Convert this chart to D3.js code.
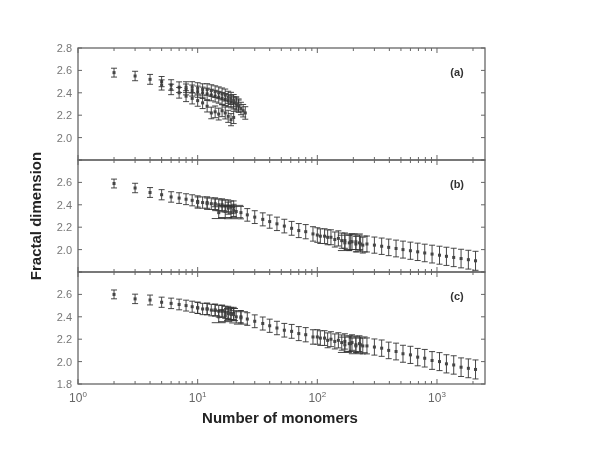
<!DOCTYPE html>
<html>
<head>
<meta charset="utf-8">
<script src="https://cdn.jsdelivr.net/npm/d3@7"></script>
<style>
  body { margin: 0; background: #fff; }
  text { font-family: "Liberation Sans", Arial, sans-serif; }
</style>
</head>
<body>
<div id="chart-area"></div>
<script>
// panel (a): clusters grown to ~20 monomers
var a1N = [2,3,4,5,6,7,8,9,10,11,12,13,14,15,16,17,18,19,20,21,22,23,24,25];
var a1D = [2.58,2.55,2.52,2.50,2.47,2.45,2.43,2.42,2.41,2.40,2.39,2.38,2.37,2.36,2.35,2.34,2.33,2.32,2.31,2.30,2.28,2.26,2.24,2.22];
var a2N = [5,6,7,8,9,10,11,12,13,14,15,16,17,18,19,20];
var a2D = [2.47,2.43,2.40,2.37,2.35,2.33,2.31,2.28,2.22,2.23,2.21,2.24,2.22,2.19,2.16,2.18];
var a3N = [8,9,10,11,12,13,14,15,16,17,18,19,20,21,22];
var a3D = [2.45,2.45,2.44,2.43,2.43,2.42,2.41,2.40,2.39,2.38,2.36,2.35,2.33,2.31,2.29];

// panel (b)
var b1N = [2,3,4,5,6,7,8,9,10,11,12,13,14,15,16,17,18,19,20];
var b1D = [2.59,2.55,2.51,2.49,2.47,2.46,2.45,2.44,2.43,2.42,2.42,2.41,2.41,2.40,2.40,2.39,2.39,2.38,2.38];
var b2N = [10,12,14,16,18,20,23,26,30,35,40,46,53,61,70,80,92,106,122,140,160,185,210,240];
var b2D = [2.42,2.41,2.40,2.39,2.37,2.35,2.33,2.31,2.29,2.27,2.25,2.23,2.21,2.19,2.17,2.16,2.14,2.12,2.11,2.09,2.08,2.06,2.05,2.04];
var b3N = [100,115,130,150,170,195,225,260,300,345,395,455,520,600,690,790,910,1050,1200,1380,1590,1830,2100];
var b3D = [2.13,2.12,2.11,2.10,2.08,2.07,2.06,2.05,2.04,2.03,2.02,2.01,2.00,1.99,1.98,1.97,1.96,1.95,1.94,1.93,1.92,1.91,1.90];
var b4N = [15,17,19,21,170,190,210,230];
var b4D = [2.33,2.34,2.33,2.34,2.06,2.07,2.07,2.05];

// panel (c)
var c1N = [2,3,4,5,6,7,8,9,10,11,12,13,14,15,16,17,18,19,20];
var c1D = [2.60,2.56,2.55,2.53,2.52,2.51,2.50,2.49,2.48,2.47,2.47,2.46,2.46,2.45,2.45,2.44,2.44,2.43,2.43];
var c2N = [10,12,14,16,18,20,23,26,30,35,40,46,53,61,70,80,92,106,122,140,160,185,210,240];
var c2D = [2.48,2.47,2.46,2.45,2.43,2.42,2.40,2.38,2.36,2.34,2.32,2.30,2.28,2.27,2.25,2.24,2.22,2.21,2.19,2.18,2.17,2.16,2.15,2.14];
var c3N = [100,115,130,150,170,195,225,260,300,345,395,455,520,600,690,790,910,1050,1200,1380,1590,1830,2100];
var c3D = [2.22,2.21,2.20,2.19,2.18,2.17,2.16,2.14,2.13,2.12,2.10,2.09,2.07,2.06,2.04,2.03,2.01,2.00,1.98,1.97,1.95,1.94,1.93];
var c4N = [15,17,19,21,23,170,190,210,230];
var c4D = [2.40,2.41,2.42,2.40,2.39,2.15,2.16,2.14,2.15];

var yTicks = [1.8, 2.0, 2.2, 2.4, 2.6, 2.8];
var xTicks = [1, 10, 100, 1000];

// error bar half width: small at low N, growing with N
function err(n) { return 0.035 + 0.015 * Math.log10(n); }

var panels = [
  { label: "(a)", shown: [2.0,2.2,2.4,2.6,2.8], series: [
    { n: a1N, d: a1D, cap: 3 }, { n: a2N, d: a2D, cap: 3 }, { n: a3N, d: a3D, cap: 3 } ] },
  { label: "(b)", shown: [2.0,2.2,2.4,2.6], series: [
    { n: b1N, d: b1D, cap: 3 }, { n: b2N, d: b2D, cap: 3 }, { n: b3N, d: b3D, cap: 3 }, { n: b4N, d: b4D, cap: 7 } ] },
  { label: "(c)", shown: [1.8,2.0,2.2,2.4,2.6], series: [
    { n: c1N, d: c1D, cap: 3 }, { n: c2N, d: c2D, cap: 3 }, { n: c3N, d: c3D, cap: 3 }, { n: c4N, d: c4D, cap: 7 } ] }
];

var W = 593, H = 457;
var left = 78, right = 485, top0 = 48, panelH = 112;

var svg = d3.select("#chart-area").append("svg")
  .attr("width", W)
  .attr("height", H);

svg.append("defs").append("filter").attr("id", "soft")
  .append("feGaussianBlur").attr("stdDeviation", 0.45);

var root = svg.append("g").attr("filter", "url(#soft)");

var x = d3.scaleLog().domain([1, 2520]).range([left, right]);

var minor = x.ticks().filter(t => t <= 2520);

panels.forEach((p, i) => {
  var y0 = top0 + i * panelH;
  var y = d3.scaleLinear().domain([1.8, 2.8]).range([y0 + panelH, y0]);
  var g = root.append("g");

  // frame
  g.append("rect")
    .attr("x", left).attr("y", y0)
    .attr("width", right - left).attr("height", panelH)
    .attr("fill", "none").attr("stroke", "#666").attr("stroke-width", 1.3);

  // x ticks, inward at top and bottom
  [y0, y0 + panelH].forEach((yy, k) => {
    g.selectAll(null).data(minor).enter().append("line")
      .attr("x1", d => x(d)).attr("x2", d => x(d))
      .attr("y1", yy)
      .attr("y2", d => yy + (k === 0 ? 1 : -1) * (xTicks.indexOf(d) >= 0 ? 5 : 3))
      .attr("stroke", "#666");
  });

  // y ticks left and right
  yTicks.forEach(t => {
    g.append("line").attr("x1", left).attr("x2", left + 4)
      .attr("y1", y(t)).attr("y2", y(t)).attr("stroke", "#666");
    g.append("line").attr("x1", right).attr("x2", right - 4)
      .attr("y1", y(t)).attr("y2", y(t)).attr("stroke", "#666");
  });

  g.selectAll(null).data(p.shown).enter().append("text")
    .attr("x", left - 6).attr("y", d => y(d) + 4)
    .attr("text-anchor", "end")
    .attr("font-size", 11).attr("fill", "#777")
    .text(d => d3.format(".1f")(d));

  g.append("text")
    .attr("x", 457).attr("y", y0 + 28)
    .attr("text-anchor", "middle")
    .attr("font-size", 11).attr("font-weight", "bold").attr("fill", "#333")
    .text(p.label);

  // error bars + markers
  p.series.forEach(s => {
    var pts = s.n.map((n, j) => ({ n: n, d: s.d[j], e: err(n) }));
    var sg = g.append("g").attr("stroke", "#333").attr("stroke-width", 0.9);
    sg.selectAll(null).data(pts).enter().append("line")
      .attr("x1", d => x(d.n)).attr("x2", d => x(d.n))
      .attr("y1", d => y(d.d - d.e)).attr("y2", d => y(d.d + d.e));
    sg.selectAll(null).data(pts).enter().append("line")
      .attr("x1", d => x(d.n) - s.cap).attr("x2", d => x(d.n) + s.cap)
      .attr("y1", d => y(d.d - d.e)).attr("y2", d => y(d.d - d.e));
    sg.selectAll(null).data(pts).enter().append("line")
      .attr("x1", d => x(d.n) - s.cap).attr("x2", d => x(d.n) + s.cap)
      .attr("y1", d => y(d.d + d.e)).attr("y2", d => y(d.d + d.e));
    sg.selectAll(null).data(pts).enter().append("rect")
      .attr("x", d => x(d.n) - 1.5).attr("y", d => y(d.d) - 1.5)
      .attr("width", 3).attr("height", 3)
      .attr("fill", "#444").attr("stroke", "none");
  });
});

// x tick labels 10^k
var xl = root.selectAll(null).data(xTicks).enter().append("text")
  .attr("x", d => x(d)).attr("y", 402)
  .attr("text-anchor", "middle")
  .attr("font-size", 12).attr("fill", "#666");
xl.append("tspan").text("10");
xl.append("tspan").attr("dy", -5).attr("font-size", 8).text(d => Math.round(Math.log10(d)));

root.append("text")
  .attr("x", 280).attr("y", 423)
  .attr("text-anchor", "middle")
  .attr("font-size", 15).attr("font-weight", "bold").attr("fill", "#222")
  .text("Number of monomers");

root.append("text")
  .attr("transform", "translate(41," + (top0 + 1.5 * panelH) + ") rotate(-90)")
  .attr("text-anchor", "middle")
  .attr("font-size", 15).attr("font-weight", "bold").attr("fill", "#222")
  .text("Fractal dimension");
</script>
</body>
</html>
